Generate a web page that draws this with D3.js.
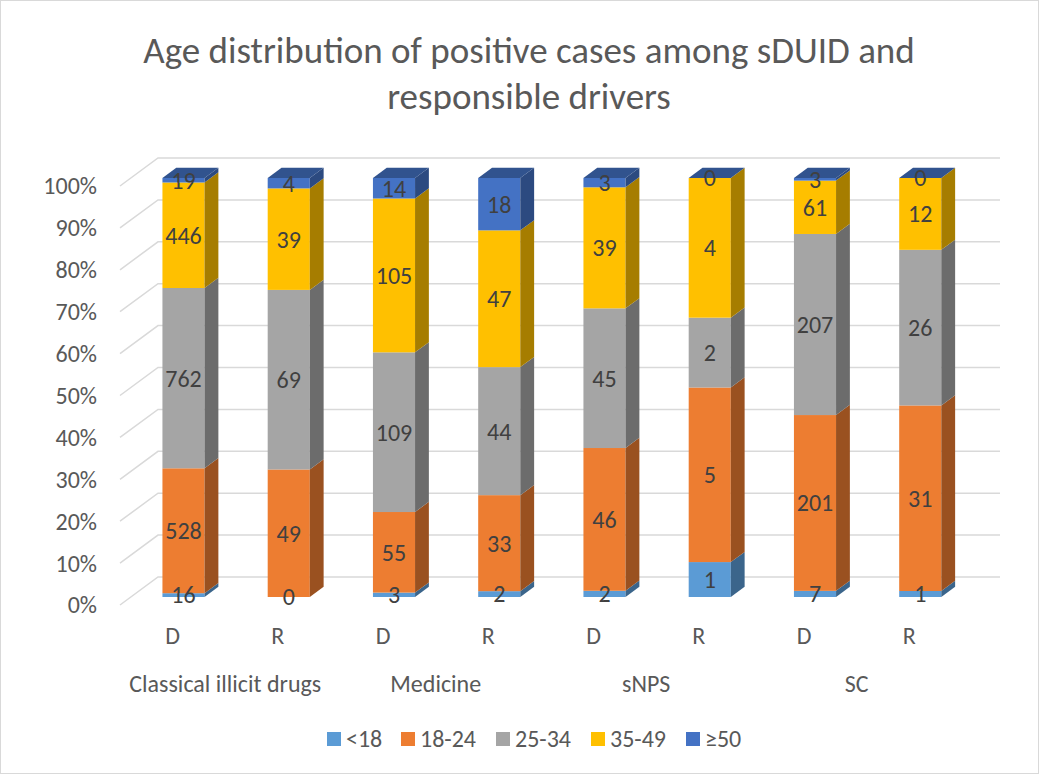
<!DOCTYPE html>
<html>
<head>
<meta charset="utf-8">
<script src="https://cdn.jsdelivr.net/npm/d3@7"></script>
<style>
  body { margin: 0; background: #fff; }
  text { font-family: Calibri, Carlito, "Liberation Sans", sans-serif; }
</style>
</head>
<body>
<div id="vis"></div>
<script>
// chart data
const groups = ["Classical illicit drugs", "Medicine", "sNPS", "SC"];
const bars = ["D", "R", "D", "R", "D", "R", "D", "R"];
const ageGroups = ["<18", "18-24", "25-34", "35-49", "≥50"];
const lt18   = [16, 0, 3, 2, 2, 1, 7, 1];
const a18_24 = [528, 49, 55, 33, 46, 5, 201, 31];
const a25_34 = [762, 69, 109, 44, 45, 2, 207, 26];
const a35_49 = [446, 39, 105, 47, 39, 4, 61, 12];
const ge50   = [19, 4, 14, 18, 3, 0, 3, 0];
const yTicks = [0, 0.1, 0.2, 0.3, 0.4, 0.5, 0.6, 0.7, 0.8, 0.9, 1];
const colors = ["#5B9BD5", "#ED7D31", "#A5A5A5", "#FFC000", "#4472C4"];

const width = 1039, height = 774;

const rows = bars.map((b, i) => ({
    idx: i,
    "<18": lt18[i], "18-24": a18_24[i], "25-34": a25_34[i], "35-49": a35_49[i], "≥50": ge50[i]
}));

const svg = d3.select("#vis").append("svg")
    .attr("width", width)
    .attr("height", height);

svg.append("rect")
    .attr("x", 0.5).attr("y", 0.5)
    .attr("width", width - 1).attr("height", height - 1)
    .attr("fill", "#fff")
    .attr("stroke", "#d9d9d9");

// 3d geometry: depth vector of the whole plot box
const depthX = 38, depthY = -28;
const barF0 = 0.286, barF1 = 0.65;   // bar front/back as depth fraction

const x = d3.scaleBand()
    .domain(d3.range(bars.length))
    .range([120, 962])
    .paddingInner(0.6)
    .paddingOuter(0.3);

const y = d3.scaleLinear()
    .domain([0, 1])
    .range([605, 186]);

const color = d3.scaleOrdinal().domain(ageGroups).range(colors);

// gridlines (side wall + back wall)
const grid = svg.append("g");
yTicks.forEach(t => {
    grid.append("path")
        .attr("d", `M${x.range()[0]},${y(t)} L${x.range()[0] + depthX},${y(t) + depthY} L${x.range()[1] + depthX},${y(t) + depthY}`)
        .attr("fill", "none")
        .attr("stroke", "#d9d9d9")
        .attr("stroke-width", 1.5);
});

// y axis labels
svg.append("g").selectAll("text")
    .data(yTicks)
    .join("text")
    .attr("x", 97)
    .attr("y", d => y(d))
    .attr("dy", "0.35em")
    .attr("text-anchor", "end")
    .attr("font-size", "24px")
    .attr("fill", "#595959")
    .text(d => d3.format(".0%")(d));

const series = d3.stack()
    .keys(ageGroups)
    .offset(d3.stackOffsetExpand)(rows);

const ox = depthX * barF0, oy = depthY * barF0;
const sx = depthX * (barF1 - barF0), sy = depthY * (barF1 - barF0);
const bw = x.bandwidth();

const barG = svg.append("g");
rows.forEach((r, i) => {
    const g = barG.append("g");
    const x0 = x(i) + ox;
    series.forEach((s, k) => {
        const seg = s[i];
        const yb = y(seg[0]) + oy, yt = y(seg[1]) + oy;
        const c = color(s.key);
        // front
        g.append("rect")
            .attr("x", x0).attr("y", yt)
            .attr("width", bw).attr("height", Math.max(0, yb - yt))
            .attr("fill", c);
        // side
        g.append("path")
            .attr("d", `M${x0 + bw},${yb} L${x0 + bw + sx},${yb + sy} L${x0 + bw + sx},${yt + sy} L${x0 + bw},${yt}Z`)
            .attr("fill", d3.color(c).darker(1.2));
        if (k === series.length - 1) {
            g.append("path")
                .attr("d", `M${x0},${yt} L${x0 + sx},${yt + sy} L${x0 + bw + sx},${yt + sy} L${x0 + bw},${yt}Z`)
                .attr("fill", d3.color(c).darker(0.9));
        }
    });
    // data labels
    series.forEach(s => {
        const seg = s[i];
        g.append("text")
            .attr("x", x0 + bw / 2)
            .attr("y", (y(seg[0]) + y(seg[1])) / 2 + oy)
            .attr("dy", "0.35em")
            .attr("text-anchor", "middle")
            .attr("font-size", "24px")
            .attr("fill", "#404040")
            .text(seg.data[s.key]);
    });
});

// category labels
svg.append("g").selectAll("text")
    .data(bars)
    .join("text")
    .attr("x", (d, i) => x(i) + bw / 2)
    .attr("y", 636)
    .attr("dy", "0.35em")
    .attr("text-anchor", "middle")
    .attr("font-size", "24px")
    .attr("fill", "#595959")
    .text(d => d);

svg.append("g").selectAll("text")
    .data(groups)
    .join("text")
    .attr("x", (d, i) => (x(2 * i) + x(2 * i + 1) + bw) / 2)
    .attr("y", 684)
    .attr("dy", "0.35em")
    .attr("text-anchor", "middle")
    .attr("font-size", "24px")
    .attr("fill", "#595959")
    .text(d => d);

// title
const title = svg.append("text")
    .attr("text-anchor", "middle")
    .attr("font-size", "37px")
    .attr("fill", "#595959");
title.append("tspan").attr("x", 529).attr("y", 63).text("Age distribution of positive cases among sDUID and");
title.append("tspan").attr("x", 529).attr("y", 109).text("responsible drivers");

// legend
const legendX = [327, 401, 496, 591, 686];
const legend = svg.append("g").selectAll("g")
    .data(ageGroups)
    .join("g")
    .attr("transform", (d, i) => `translate(${legendX[i]},732)`);
legend.append("rect")
    .attr("width", 14).attr("height", 14)
    .attr("fill", d => color(d));
legend.append("text")
    .attr("x", 19).attr("y", 7)
    .attr("dy", "0.35em")
    .attr("font-size", "24px")
    .attr("fill", "#595959")
    .text(d => d);
</script>
</body>
</html>
